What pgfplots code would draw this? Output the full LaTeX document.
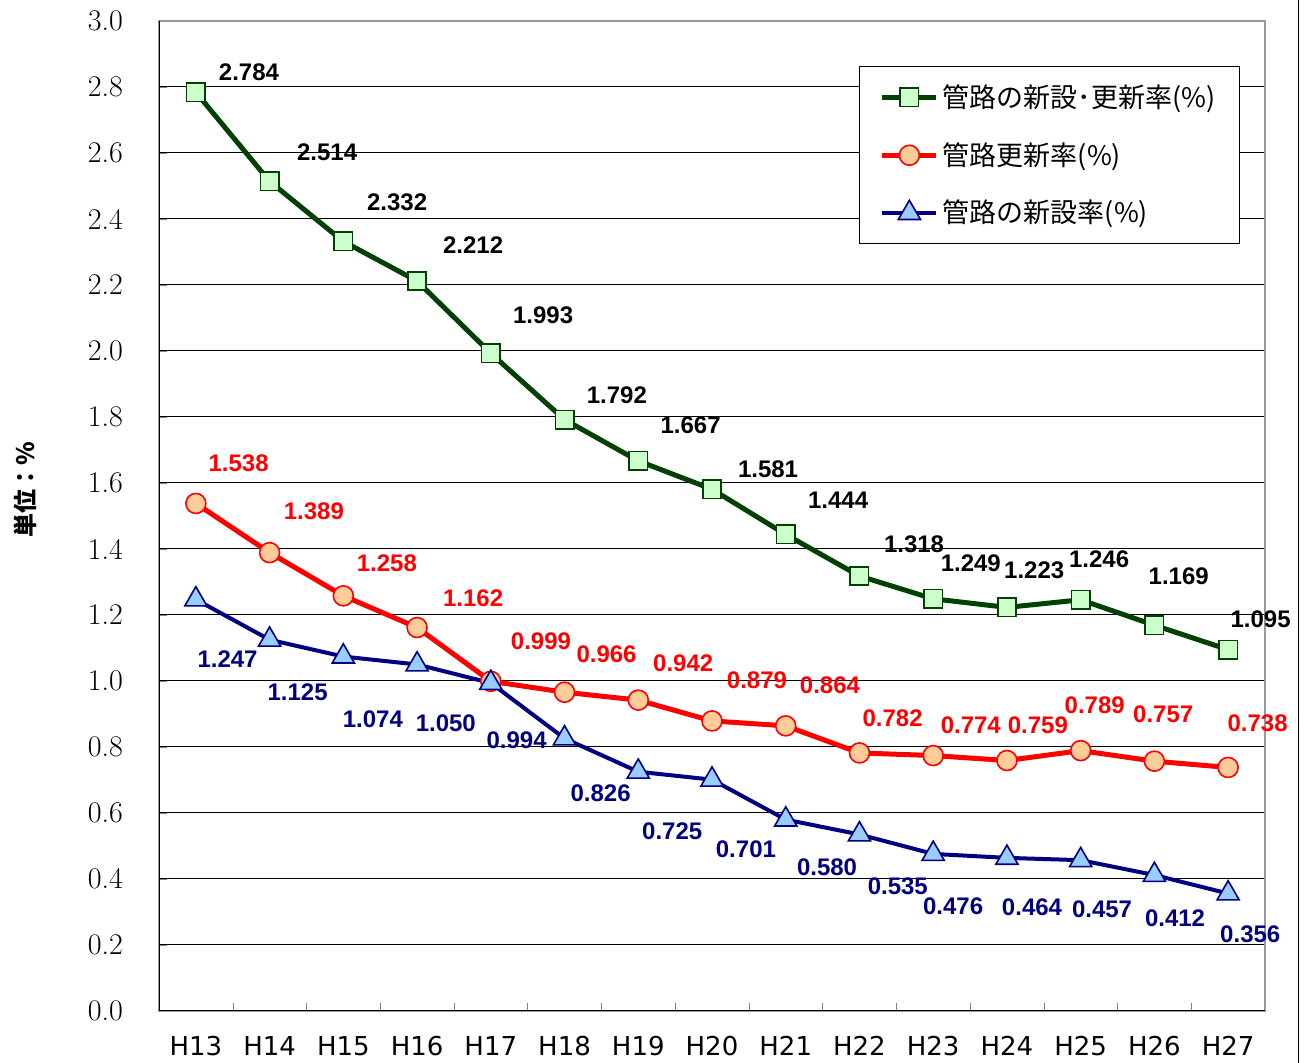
\documentclass[border=0pt]{standalone}
\usepackage{fontspec}
\usepackage{pgfplots}
\pgfplotsset{compat=1.18}
\newfontfamily\jp{Noto Sans CJK JP}
\newfontfamily\lab{Liberation Sans}
\newfontfamily\dv{DejaVu Sans}
\definecolor{dgreen}{RGB}{0,64,0}
\definecolor{lgreen}{RGB}{204,255,204}
\definecolor{navy}{RGB}{0,0,128}
\definecolor{lblue}{RGB}{153,204,255}
\definecolor{peach}{RGB}{255,204,153}
\begin{document}
\begin{tikzpicture}
\useasboundingbox (-79.5pt,-26pt) rectangle (573.5pt,505.5pt);
\begin{axis}[
  at={(0pt,0pt)}, anchor=south west,
  width=553pt, height=495pt, scale only axis,
  xmin=-0.5, xmax=14.5, ymin=0, ymax=3,
  xtick={0,...,14},
  xticklabels={H13,H14,H15,H16,H17,H18,H19,H20,H21,H22,H23,H24,H25,H26,H27},
  major x tick style={draw=none},
  minor xtick={0.5,1.5,...,13.5},
  ytick={0,0.2,...,3.01},
  tick align=inside, tick pos=left,
  major tick length=4pt, minor tick length=4pt,
  ymajorgrids, grid style={black, line width=0.5pt},
  axis line style={gray!80, line width=0.8pt},
  /pgf/number format/.cd, fixed, fixed zerofill, precision=1, assume math mode=true,
  /pgfplots/.cd,
  yticklabel style={font=\fontsize{15}{18}\selectfont, xshift=-14.5pt},
  xticklabel style={font=\dv\fontsize{13}{15}\selectfont, yshift=-9pt},
  legend style={at={(0.9774,0.9545)}, anchor=north east, draw=black, line width=0.5pt,
    font=\jp\fontsize{13.5}{16}\selectfont, row sep=12pt, inner xsep=10pt, inner ysep=7pt},
  legend cell align=left,
  legend image code/.code={\draw[mark repeat=2, mark phase=2, #1] plot coordinates {(0pt,0pt) (13.5pt,0pt) (27pt,0pt)};},
]
\addplot[dgreen, line width=2.5pt, mark=square*, mark size=4.6pt,
  mark options={fill=lgreen, draw=dgreen, line width=0.8pt}]
  coordinates {(0,2.784)(1,2.514)(2,2.332)(3,2.212)(4,1.993)(5,1.792)(6,1.667)(7,1.581)(8,1.444)(9,1.318)(10,1.249)(11,1.223)(12,1.246)(13,1.169)(14,1.095)};
\addlegendentry{管路の新設･更新率(\%)}
\addplot[red, line width=2.5pt, mark=*, mark size=5pt,
  mark options={fill=peach, draw=red, line width=0.8pt}]
  coordinates {(0,1.538)(1,1.389)(2,1.258)(3,1.162)(4,0.999)(5,0.966)(6,0.942)(7,0.879)(8,0.864)(9,0.782)(10,0.774)(11,0.759)(12,0.789)(13,0.757)(14,0.738)};
\addlegendentry{管路更新率(\%)}
\addplot[navy, line width=2pt, mark=triangle*, mark size=6.4pt,
  mark options={fill=lblue, draw=navy, line width=0.8pt}]
  coordinates {(0,1.247)(1,1.125)(2,1.074)(3,1.050)(4,0.994)(5,0.826)(6,0.725)(7,0.701)(8,0.580)(9,0.535)(10,0.476)(11,0.464)(12,0.457)(13,0.412)(14,0.356)};
\addlegendentry{管路の新設率(\%)}
% data labels
\addplot[draw=none, mark=none, forget plot, nodes near coords, point meta=explicit symbolic,
  every node near coord/.append style={anchor=center, inner sep=0pt, text=black, font=\lab\bfseries\fontsize{12}{14}\selectfont}]
  coordinates {(0.72,2.845)[2.784] (1.78,2.603)[2.514] (2.73,2.452)[2.332] (3.76,2.321)[2.212] (4.71,2.109)[1.993] (5.71,1.867)[1.792] (6.71,1.776)[1.667] (7.76,1.642)[1.581] (8.71,1.548)[1.444] (9.74,1.415)[1.318] (10.51,1.358)[1.249] (11.37,1.336)[1.223] (12.25,1.370)[1.246] (13.33,1.318)[1.169] (14.44,1.188)[1.095]};
\addplot[draw=none, mark=none, forget plot, nodes near coords, point meta=explicit symbolic,
  every node near coord/.append style={anchor=center, inner sep=0pt, text=red, font=\lab\bfseries\fontsize{12}{14}\selectfont}]
  coordinates {(0.58,1.661)[1.538] (1.60,1.515)[1.389] (2.59,1.358)[1.258] (3.76,1.252)[1.162] (4.68,1.121)[0.999] (5.57,1.082)[0.966] (6.61,1.055)[0.942] (7.61,1.003)[0.879] (8.60,0.988)[0.864] (9.45,0.888)[0.782] (10.51,0.867)[0.774] (11.42,0.867)[0.759] (12.19,0.927)[0.789] (13.12,0.900)[0.757] (14.40,0.873)[0.738]};
\addplot[draw=none, mark=none, forget plot, nodes near coords, point meta=explicit symbolic,
  every node near coord/.append style={anchor=center, inner sep=0pt, text=navy, font=\lab\bfseries\fontsize{12}{14}\selectfont}]
  coordinates {(0.43,1.067)[1.247] (1.38,0.967)[1.125] (2.40,0.885)[1.074] (3.39,0.873)[1.050] (4.35,0.821)[0.994] (5.49,0.661)[0.826] (6.46,0.545)[0.725] (7.46,0.491)[0.701] (8.56,0.436)[0.580] (9.52,0.379)[0.535] (10.27,0.318)[0.476] (11.34,0.315)[0.464] (12.29,0.309)[0.457] (13.28,0.282)[0.412] (14.30,0.233)[0.356]};
\draw[black, line width=0.8pt] (rel axis cs:0,1) -- (rel axis cs:0,0) -- (rel axis cs:1,0);
\end{axis}
\draw[black, line width=0.5pt] (569.5pt,-26pt) -- (569.5pt,505.5pt);
\node[rotate=90, font=\jp\bfseries\fontsize{12}{14}\selectfont] at (-67pt,260.5pt) {単位：\%};
\end{tikzpicture}
\end{document}
